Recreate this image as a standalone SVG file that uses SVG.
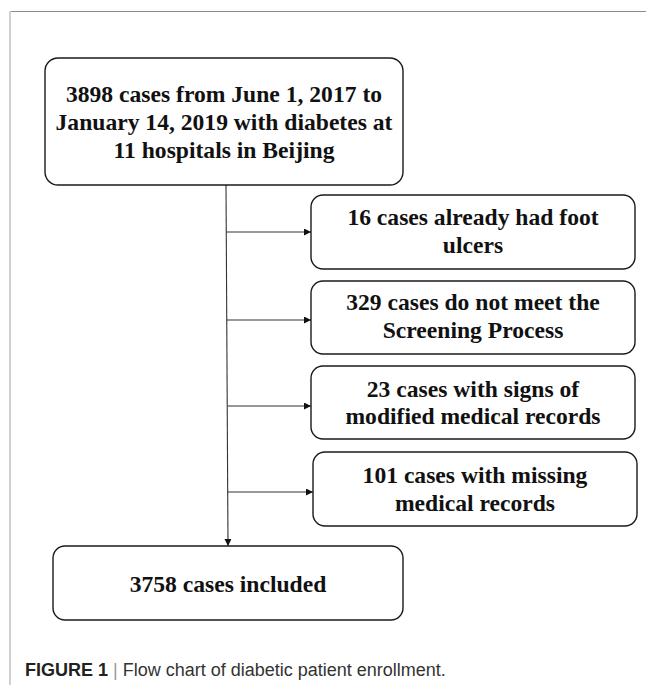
<svg xmlns="http://www.w3.org/2000/svg" width="646" height="685" viewBox="0 0 646 685">
<style>
.box{fill:#fff;stroke:#1a1a1a;stroke-width:1.4}
.t{font-family:"Liberation Serif","Times New Roman",serif;font-weight:bold;font-size:23.6px;fill:#111;text-anchor:middle}
.conn{stroke:#333;stroke-width:1.1;fill:none}
.cap{font-family:"Liberation Sans",Arial,sans-serif;font-size:18px;fill:#333}
</style>
<defs>
<marker id="ah" viewBox="0 0 10 10" refX="10" refY="5" markerWidth="7" markerHeight="7" markerUnits="userSpaceOnUse" orient="auto">
<path d="M0,0 L10,5 L0,10 z" fill="#111"/>
</marker>
</defs>
<g id="frame">
<line x1="9" y1="11.5" x2="646" y2="11.5" stroke="#8a8a8a" stroke-width="1.2"/>
<line x1="10" y1="11" x2="10" y2="685" stroke="#d0d0d0" stroke-width="2"/>
</g>
<g id="connectors">
<line class="conn" x1="226" y1="185" x2="228" y2="546" marker-end="url(#ah)"/>
<line class="conn" x1="226.5" y1="232" x2="311" y2="232" marker-end="url(#ah)"/>
<line class="conn" x1="227" y1="320" x2="311" y2="320" marker-end="url(#ah)"/>
<line class="conn" x1="227.3" y1="406" x2="311" y2="406" marker-end="url(#ah)"/>
<line class="conn" x1="227.8" y1="492" x2="313" y2="492" marker-end="url(#ah)"/>
</g>
<g id="n_start">
<rect class="box" x="45" y="58" width="358" height="127" rx="13"/>
<text class="t" x="224" y="102">3898 cases from June 1, 2017 to</text>
<text class="t" x="224" y="130">January 14, 2019 with diabetes at</text>
<text class="t" x="224" y="158">11 hospitals in Beijing</text>
</g>
<g id="n_ulcers">
<rect class="box" x="311" y="195" width="324" height="74" rx="12"/>
<text class="t" x="473" y="225">16 cases already had foot</text>
<text class="t" x="473" y="253">ulcers</text>
</g>
<g id="n_screening">
<rect class="box" x="311" y="281" width="324" height="73" rx="12"/>
<text class="t" x="473" y="310">329 cases do not meet the</text>
<text class="t" x="473" y="338">Screening Process</text>
</g>
<g id="n_modified">
<rect class="box" x="311" y="366" width="324" height="73" rx="12"/>
<text class="t" x="473" y="397">23 cases with signs of</text>
<text class="t" x="473" y="424">modified medical records</text>
</g>
<g id="n_missing">
<rect class="box" x="313" y="452" width="324" height="74" rx="12"/>
<text class="t" x="475" y="483">101 cases with missing</text>
<text class="t" x="475" y="511">medical records</text>
</g>
<g id="n_included">
<rect class="box" x="53" y="546" width="350" height="74" rx="12"/>
<text class="t" x="228" y="592">3758 cases included</text>
</g>
<g id="caption">
<text class="cap" x="25" y="676"><tspan font-weight="bold" fill="#222">FIGURE 1</tspan><tspan fill="#999"> | </tspan><tspan>Flow chart of diabetic patient enrollment.</tspan></text>
</g>
</svg>
